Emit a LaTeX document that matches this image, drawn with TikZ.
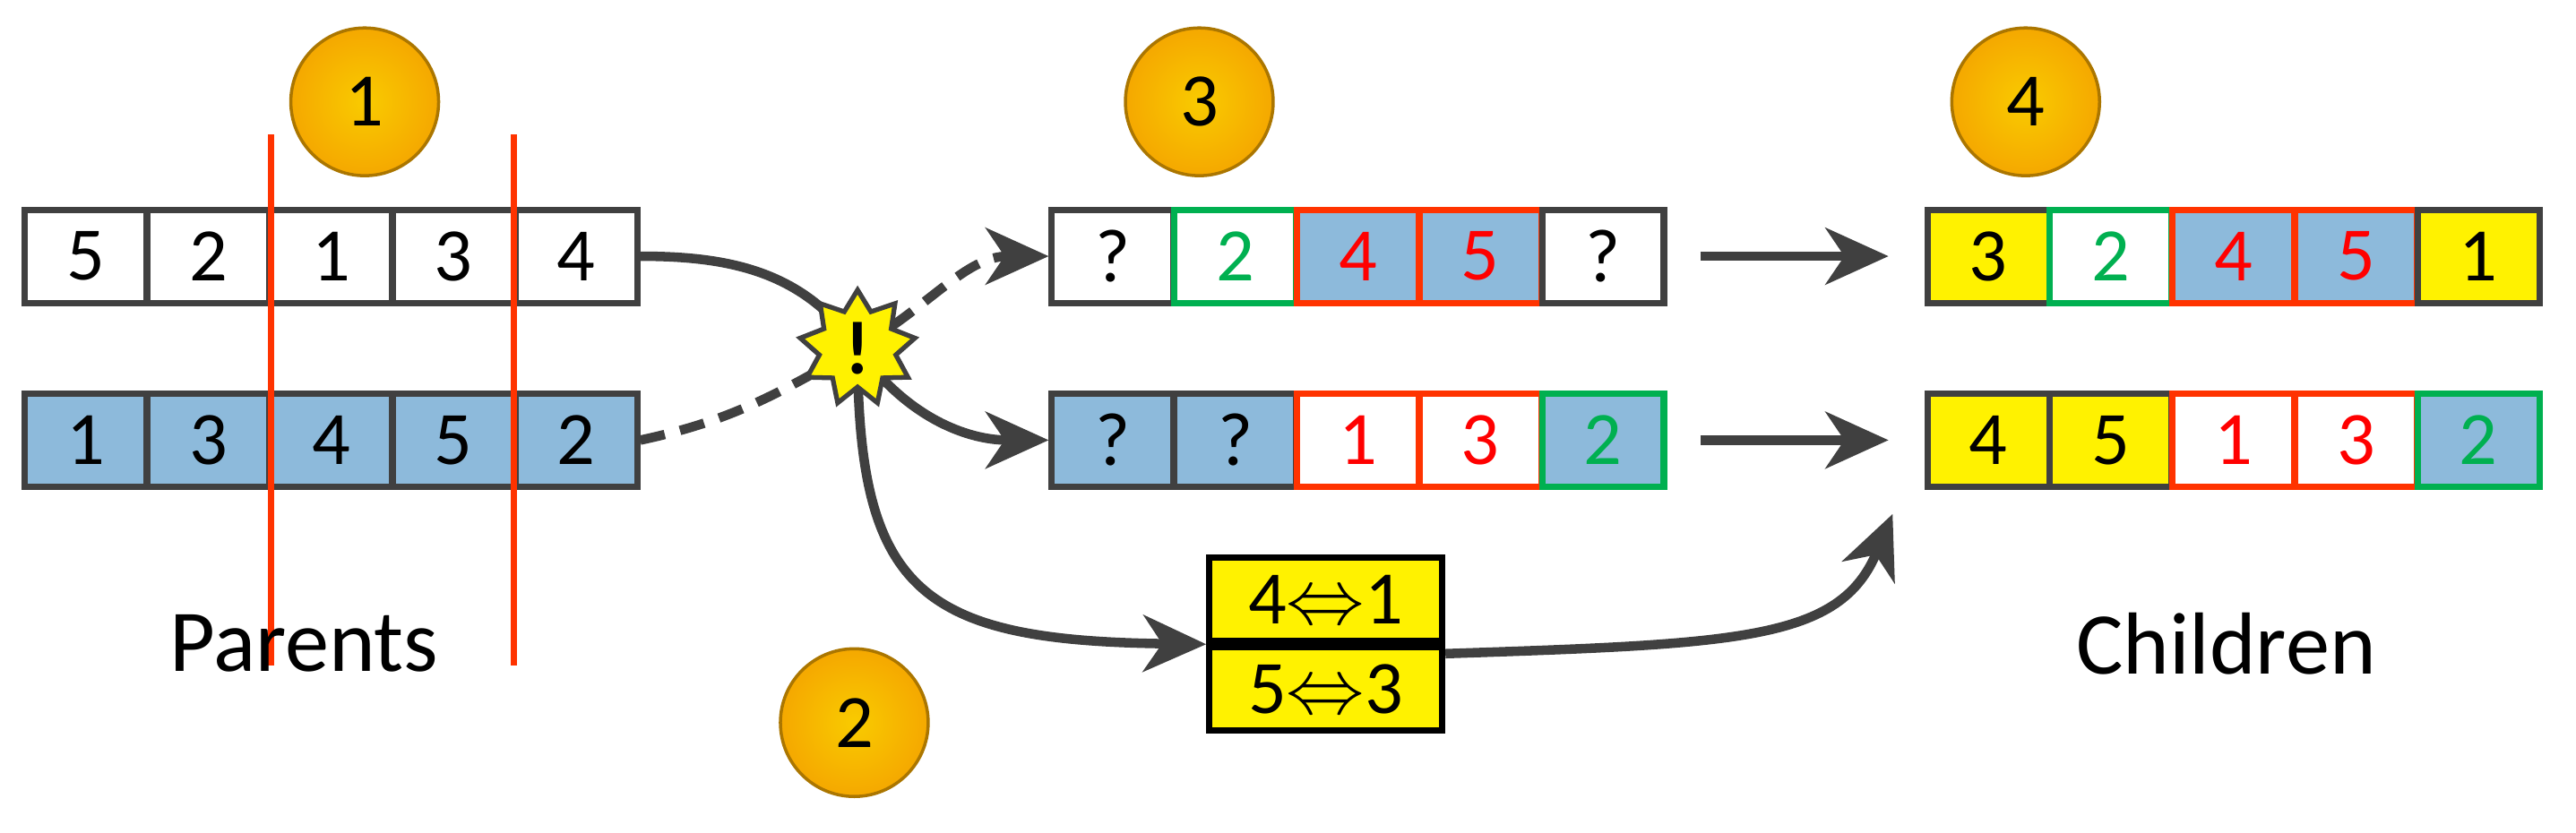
\documentclass[tikz,border=0pt]{standalone}
\usepackage{fontspec}
\setmainfont{Carlito}
\usepackage{tikz}
\usetikzlibrary{shapes.geometric, arrows.meta, positioning}
\definecolor{edge}{HTML}{404040}
\definecolor{cellblue}{HTML}{8DBADB}
\definecolor{cutred}{HTML}{FF3300}
\definecolor{keepgreen}{HTML}{00B050}
\definecolor{badge}{HTML}{F5A800}
\tikzstyle{cell} = [rectangle, minimum width = 1.36cm, minimum height = 1.04cm,
  line width = 2pt, inner sep = 0pt, font = \fontsize{24}{28}\selectfont]
\tikzstyle{stepmark} = [circle, minimum size = 1.65cm, draw = badge!70!black,
  line width = 1pt, inner color = badge!60!yellow, outer color = badge,
  font = \fontsize{24}{28}\selectfont]
\tikzstyle{arrow} = [draw = edge, line width = 3pt,
  -{Stealth[length = 20pt, width = 18pt, inset = 6pt]}]
\tikzstyle{caption} = [font = \fontsize{28}{32}\selectfont]
\begin{document}
\begin{tikzpicture}[x = 0.01834cm, y = -0.01834cm]
  \useasboundingbox (0,0) rectangle (1568,507);
  % parents
  \foreach \v/\f [count = \i] in {5/white, 2/white, 1/white, 3/white, 4/white}
    \node (p1-\i) [cell, draw = edge, fill = \f] at (15+74.6*\i-37.3,156) {\v};
  \foreach \v/\f [count = \i] in {1/cellblue, 3/cellblue, 4/cellblue, 5/cellblue, 2/cellblue}
    \node (p2-\i) [cell, draw = edge, fill = \f] at (15+74.6*\i-37.3,268) {\v};
  \coordinate (cut-1t) at (165,82);
  \coordinate (cut-1b) at (165,405);
  \coordinate (cut-2t) at (313,82);
  \coordinate (cut-2b) at (313,405);
  \draw [cutred, line width = 2pt] (cut-1t) -- (cut-1b);
  \draw [cutred, line width = 2pt] (cut-2t) -- (cut-2b);
  \node (parents) [caption] at (185,392) {Parents};

  % proto-children
  \foreach \v/\f/\b/\t [count = \i] in {?/white/edge/black, 2/white/keepgreen/keepgreen,
      4/cellblue/cutred/red, 5/cellblue/cutred/red, ?/white/edge/black}
    \node (o1-\i) [cell, draw = \b, fill = \f, text = \t] at (640+74.6*\i-37.3,156) {\v};
  \foreach \v/\f/\b/\t [count = \i] in {?/cellblue/edge/black, ?/cellblue/edge/black,
      1/white/cutred/red, 3/white/cutred/red, 2/cellblue/keepgreen/keepgreen}
    \node (o2-\i) [cell, draw = \b, fill = \f, text = \t] at (640+74.6*\i-37.3,268) {\v};

  % children
  \foreach \v/\f/\b/\t [count = \i] in {3/yellow/edge/black, 2/white/keepgreen/keepgreen,
      4/cellblue/cutred/red, 5/cellblue/cutred/red, 1/yellow/edge/black}
    \node (c1-\i) [cell, draw = \b, fill = \f, text = \t] at (1173+74.6*\i-37.3,156) {\v};
  \foreach \v/\f/\b/\t [count = \i] in {4/yellow/edge/black, 5/yellow/edge/black,
      1/white/cutred/red, 3/white/cutred/red, 2/cellblue/keepgreen/keepgreen}
    \node (c2-\i) [cell, draw = \b, fill = \f, text = \t] at (1173+74.6*\i-37.3,268) {\v};
  \node (children) [caption] at (1355,392) {Children};

  % mapping
  \node (map-1) [cell, draw = black, fill = yellow, minimum width = 2.6cm,
    minimum height = 0.93cm] at (807,365) {4$\Leftrightarrow$1};
  \node (map-2) [cell, draw = black, fill = yellow, minimum width = 2.6cm,
    minimum height = 0.93cm, below = 0pt of map-1] {5$\Leftrightarrow$3};
  \coordinate (map-in) at (map-1.south west);
  \coordinate (map-out) at ([yshift = -3pt]map-1.south east);
  \coordinate (target) at (1152,313);

  % crossover lines
  \coordinate (x) at (522,212);
  \draw [draw = edge, line width = 3pt] (p1-5.east) to[out = 0, in = 125] (x);
  \draw [arrow] (x) to[out = -55, in = 180] (o2-1.west);
  \draw [draw = edge, line width = 3pt, dash pattern = on 8pt off 5pt]
    (p2-5.east) to[out = 12, in = -150] (x);
  \draw [arrow, dash pattern = on 8pt off 5pt] (x) to[out = 30, in = 180] (o1-1.west);
  \draw [arrow] (x) .. controls (522,360) and (560,390) .. (map-in);
  \draw [arrow] (map-out) .. controls (1060,392) and (1120,390) .. (target);
  \coordinate (a1) at (1035,156);
  \coordinate (a2) at (1035,268);
  \draw [arrow] (a1) -- ([xshift = -0.4cm]c1-1.west);
  \draw [arrow] (a2) -- ([xshift = -0.4cm]c2-1.west);
  \node (star) [star, star points = 9, star point ratio = 1.5, minimum size = 1.3cm,
    fill = yellow, draw = edge, line width = 1.5pt, inner sep = 0pt,
    font = \fontsize{24}{24}\selectfont\bfseries] at (x) {!};

  % steps
  \node (step-1) [stepmark] at (222,62) {1};
  \node (step-2) [stepmark] at (520,440) {2};
  \node (step-3) [stepmark] at (730,62) {3};
  \node (step-4) [stepmark] at (1233,62) {4};
\end{tikzpicture}
\end{document}
